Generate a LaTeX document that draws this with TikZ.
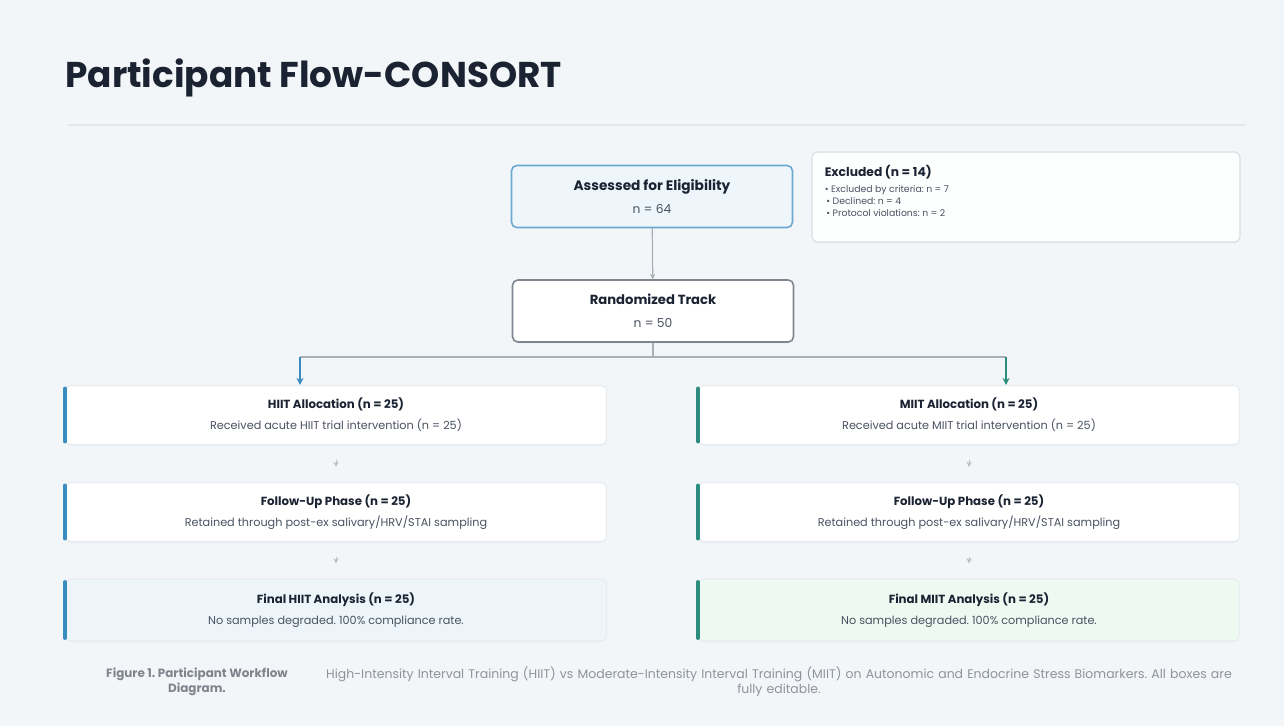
\documentclass[tikz,border=0pt]{standalone}
\usepackage{fontspec}
\setmainfont{Poppins}
\usetikzlibrary{arrows.meta, positioning, shadows}
\frenchspacing

\definecolor{pagebg}{HTML}{F3F6F9}
\definecolor{ink}{HTML}{1B2333}
\definecolor{subink}{HTML}{4A5261}
\definecolor{capink}{HTML}{8E949C}
\definecolor{edge}{HTML}{D9DEE4}
\definecolor{linkgray}{HTML}{A9AFB6}
\definecolor{hiitblue}{HTML}{3A8DC1}
\definecolor{miitteal}{HTML}{2C8C7E}
\definecolor{assessfill}{HTML}{EEF6FC}
\definecolor{hiitfill}{HTML}{EEF5FA}
\definecolor{miitfill}{HTML}{EEF9F1}

\newlength\px
\setlength\px{0.02cm}

\newcommand\boxhead[1]{{\bfseries\fontsize{6.7}{8}\selectfont\color{ink}#1}}
\newcommand\boxsub[1]{{\fontsize{6.4}{8}\selectfont\color{subink}#1}}

\tikzset{
  card/.style={draw=edge, line width=0.6pt, fill=white, rounded corners=3pt,
    drop shadow={opacity=0.06, shadow xshift=0pt, shadow yshift=-0.8pt},
    align=center, inner sep=0pt},
  topbox/.style={card, minimum width=281\px, minimum height=62\px},
  armbox/.style={card, minimum width=541\px, minimum height=59\px, draw=edge!60},
  link/.style={draw=linkgray, line width=0.7pt},
  step arrow/.style={link, -{Stealth[length=3pt, width=3pt]}, line width=0.5pt, draw=linkgray!80},
  hiitbar/.style={draw=hiitblue, line width=2.2pt, line cap=round},
  miitbar/.style={draw=miitteal, line width=2.2pt, line cap=round},
}

\begin{document}
\begin{tikzpicture}[x=0.02cm, y=-0.02cm]
  % page
  \fill[pagebg] (0,0) rectangle (1284,726);
  \useasboundingbox (0,0) rectangle (1284,726);

  \node[anchor=west, font=\bfseries\fontsize{20.4}{24}\selectfont, text=ink, inner sep=0pt] (title) at (65,78) {Participant Flow-CONSORT};
  \draw[edge!70, line width=0.6pt] (68,125) -- (1245,125);

  % top of the flow
  \node[topbox, draw=hiitblue!75, line width=0.9pt, fill=assessfill] (assess) at (652,196.5)
    {{\bfseries\fontsize{7.8}{9}\selectfont\color{ink}Assessed for Eligibility}\\[1pt]{\fontsize{7}{8}\selectfont\color{subink}n = 64}};
  \node[card, minimum width=428\px, minimum height=90\px, fill=white!85!pagebg] (excl) at (1026,197) {};
  \node[anchor=north west, font=\bfseries\fontsize{7}{8}\selectfont, text=ink, inner sep=0pt] (exhead) at ([xshift=13\px, yshift=-13\px]excl.north west) {Excluded (n = 14)};
  \node[below=6\px of exhead.south west, anchor=north west, align=left, inner sep=0pt,
        font=\fontsize{5.3}{6.8}\selectfont, text=subink] (exlist)
    {• Excluded by criteria: n = 7\\ \,• Declined: n = 4\\ \,• Protocol violations: n = 2};

  \node[topbox, draw=subink!70, line width=0.9pt] (rand) at (653,311)
    {{\bfseries\fontsize{7.5}{9}\selectfont\color{ink}Randomized Track}\\[1pt]{\fontsize{7}{8}\selectfont\color{subink}n = 50}};

  % HIIT arm
  \node[armbox] (hiit) at (336,415)
    {\boxhead{HIIT Allocation (n = 25)}\\\boxsub{Received acute HIIT trial intervention (n = 25)}};
  \node[armbox] (fuh) at (336,512)
    {\boxhead{Follow-Up Phase (n = 25)}\\\boxsub{Retained through post-ex salivary/HRV/STAI sampling}};
  \node[armbox, fill=hiitfill, minimum height=62\px] (finh) at (336,610)
    {\boxhead{Final HIIT Analysis (n = 25)}\\\boxsub{No samples degraded. 100\% compliance rate.}};

  % MIIT arm
  \node[armbox] (miit) at (969,415)
    {\boxhead{MIIT Allocation (n = 25)}\\\boxsub{Received acute MIIT trial intervention (n = 25)}};
  \node[armbox] (fum) at (969,512)
    {\boxhead{Follow-Up Phase (n = 25)}\\\boxsub{Retained through post-ex salivary/HRV/STAI sampling}};
  \node[armbox, fill=miitfill, minimum height=62\px] (finm) at (969,610)
    {\boxhead{Final MIIT Analysis (n = 25)}\\\boxsub{No samples degraded. 100\% compliance rate.}};

  % accent bars
  \foreach \b in {hiit, fuh, finh}
    \draw[hiitbar] ([yshift=-2pt]\b.north west) -- ([yshift=2pt]\b.south west);
  \foreach \b in {miit, fum, finm}
    \draw[miitbar] ([yshift=-2pt]\b.north west) -- ([yshift=2pt]\b.south west);

  % connectors
  \draw[link, -{Stealth[length=3pt, width=3pt]}] (assess) -- (rand);
  \coordinate (split) at (653,357);
  \coordinate (lsplit) at (300,357);
  \coordinate (rsplit) at (1006,357);
  \draw[link] (rand) -- (split);
  \draw[link] (lsplit) -- (rsplit);
  \draw[hiitblue, line width=1pt, -{Stealth[length=4pt, width=4pt]}] (lsplit) -- (lsplit |- hiit.north);
  \draw[miitteal, line width=1pt, -{Stealth[length=4pt, width=4pt]}] (rsplit) -- (rsplit |- miit.north);

  \draw[step arrow, shorten <=15\px, shorten >=15\px] (hiit) -- (fuh);
  \draw[step arrow, shorten <=15\px, shorten >=15\px] (fuh) -- (finh);
  \draw[step arrow, shorten <=15\px, shorten >=15\px] (miit) -- (fum);
  \draw[step arrow, shorten <=15\px, shorten >=15\px] (fum) -- (finm);

  % caption
  \node[align=center, font=\bfseries\fontsize{6.8}{8.5}\selectfont, text=capink!90!black, inner sep=0pt] (capA) at (197,682)
    {Figure 1. Participant Workflow\\Diagram.};
  \node[text width=925\px, align=center, font=\fontsize{7.1}{8.5}\selectfont, text=capink, inner sep=0pt] (capB) at (779,682)
    {High-Intensity Interval Training (HIIT) vs Moderate-Intensity Interval Training (MIIT) on Autonomic and Endocrine Stress Biomarkers. All boxes are fully editable.};
\end{tikzpicture}
\end{document}
